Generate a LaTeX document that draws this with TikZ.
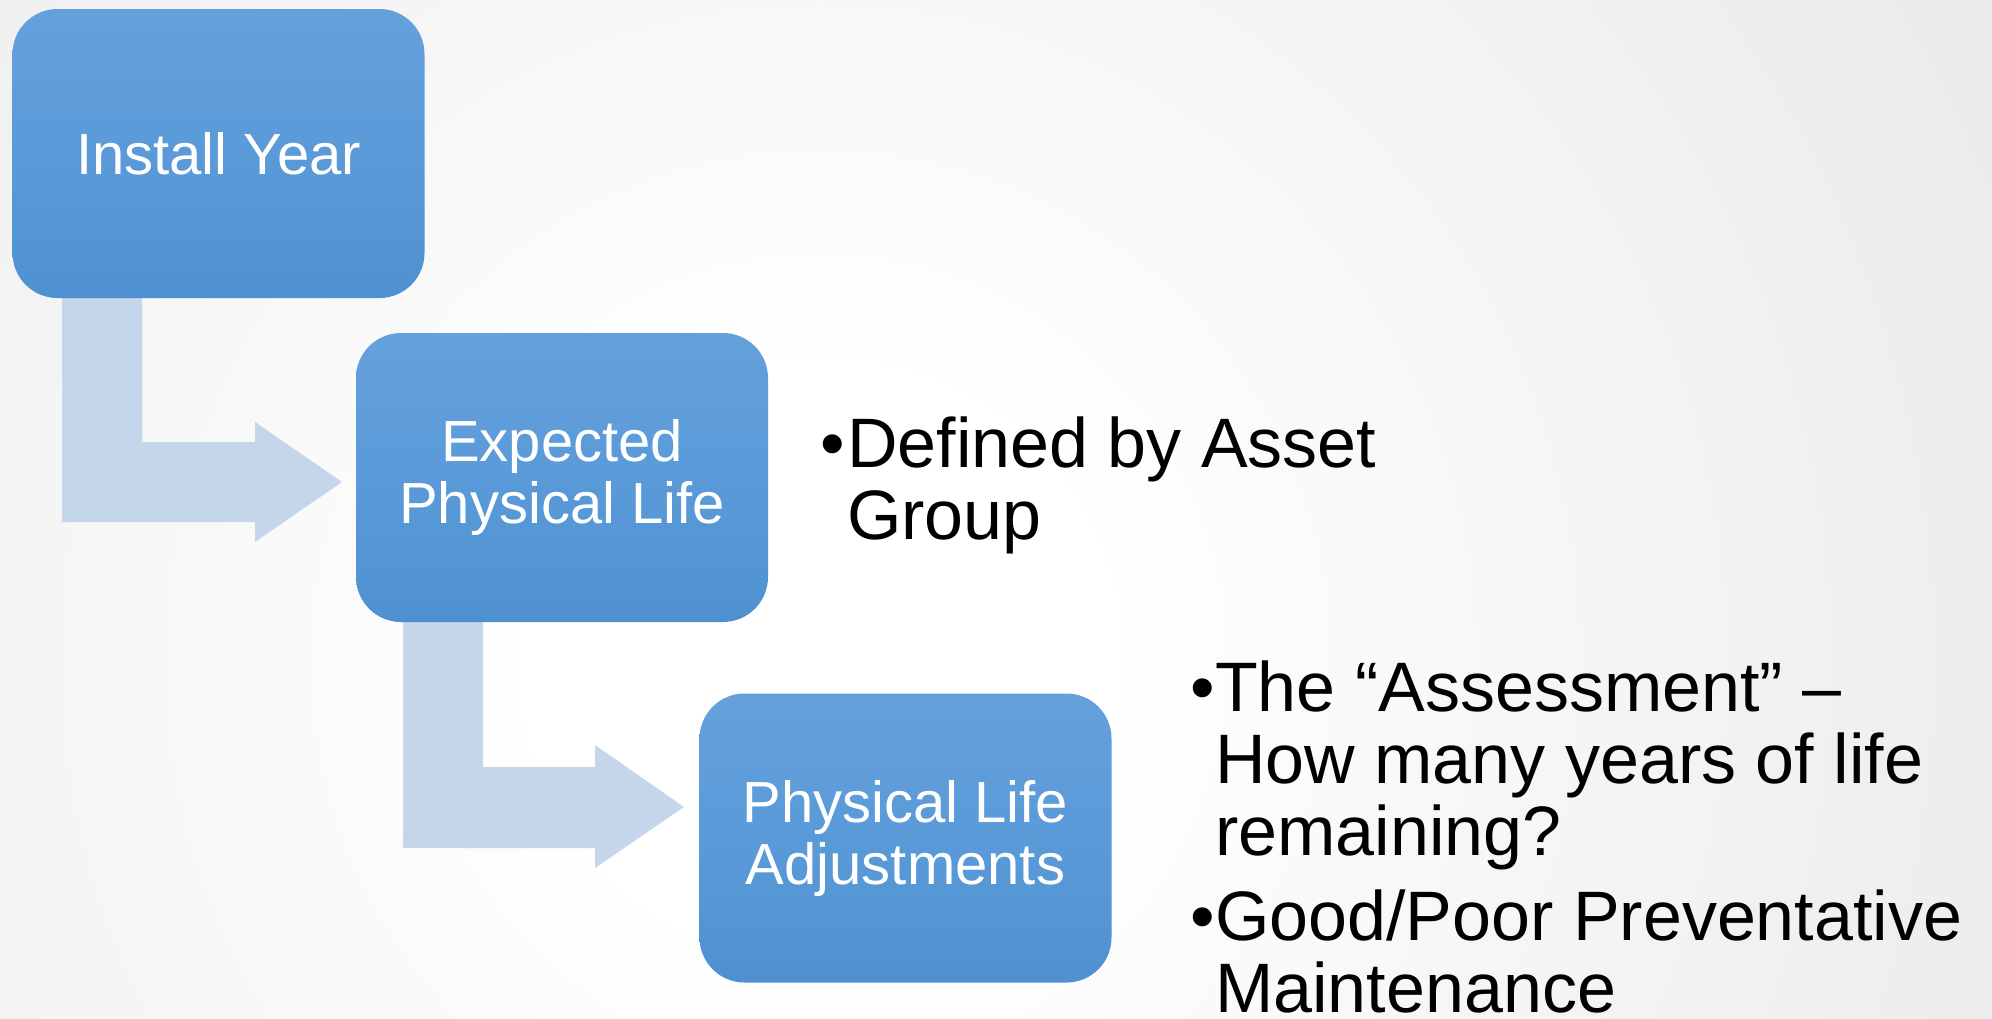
\documentclass[tikz,border=0pt]{standalone}
\usepackage{fontspec}
\setmainfont{Liberation Sans}
\usetikzlibrary{calc}
\definecolor{bggrey}{HTML}{CDCDCD}
\definecolor{boxtop}{HTML}{71A7DD}
\definecolor{boxmid}{HTML}{5A9AD9}
\definecolor{boxbot}{HTML}{4488C7}
\definecolor{arrowfill}{HTML}{C5D5EA}
\pgfdeclareradialshading{bgshade}{\pgfpoint{0bp}{0bp}}{color(0bp)=(white); color(5bp)=(white); color(50bp)=(bggrey)}
\pgfdeclareverticalshading{boxshade}{100bp}{color(0bp)=(boxbot); color(50bp)=(boxmid); color(100bp)=(boxtop)}
\begin{document}
\begin{tikzpicture}[x=1pt,y=-1pt,
  stepbox/.style={rectangle, rounded corners=45pt, shading=boxshade, minimum width=412pt, minimum height=289pt, text=white, align=center, font=\fontsize{58}{62}\selectfont, inner sep=0pt},
  bullettext/.style={anchor=base west, inner sep=0pt, font=\fontsize{70}{72}\selectfont, text=black},
  blockarrow/.style={fill=arrowfill, draw=none}]
\begin{scope}
  \clip (0,0) rectangle (1992,1018);
  \shade[shading=bgshade] (820,660) circle (1400pt);
\end{scope}
\useasboundingbox (0,0) rectangle (1992,1018);

% block arrows
\fill[blockarrow] (62,200) -- (142,200) -- (142,442) -- (255,442) -- (255,422) -- (342,482) -- (255,542) -- (255,522) -- (62,522) -- cycle;
\fill[blockarrow] (403,550) -- (483,550) -- (483,767) -- (595,767) -- (595,745) -- (684,807) -- (595,868) -- (595,848) -- (403,848) -- cycle;

% boxes
\node[stepbox] (b1) at (218.5,153.5) {Install Year};
\node[stepbox] (b2) at (562,477.5) {Expected\\Physical Life};
\node[stepbox] (b3) at (905.5,838) {Physical Life\\Adjustments};

% bullet texts
\node[bullettext] (t1) at (820,467) {\begin{tabular}[t]{@{}l@{}l@{}}\makebox[27pt][l]{•}&Defined by Asset\\&Group\end{tabular}};
\node[bullettext] (t2) at (1190,711) {\begin{tabular}[t]{@{}l@{}l@{}}\makebox[25pt][l]{•}&The “Assessment” –\\&How many years of life\\&remaining?\end{tabular}};
\node[bullettext] (t3) at (1190,940) {\begin{tabular}[t]{@{}l@{}l@{}}\makebox[25pt][l]{•}&Good/Poor Preventative\\&Maintenance\end{tabular}};
\end{tikzpicture}
\end{document}
